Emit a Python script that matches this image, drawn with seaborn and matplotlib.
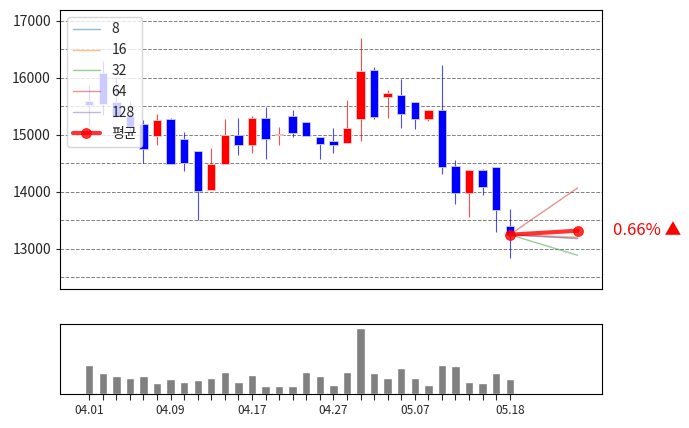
import matplotlib
matplotlib.use("Agg")
import matplotlib.pyplot as plt
import seaborn as sns
import numpy as np
import pandas as pd

sns.set_style("white")
plt.rcParams['font.family'] = ['Noto Sans CJK KR', 'DejaVu Sans']

opens  = [15600,16090,15580,15330,15190,14980,15280,14930,14720,14030,14490,15000,14820,15300,15000,15330,15230,14960,14900,14860,15280,16140,15670,15700,15580,15280,15440,14460,13980,14390,14440,13400]
closes = [15530,15545,15320,15140,14750,15260,14490,14510,14020,14490,15000,14820,15300,14930,15000,15040,14980,14840,14820,15120,16120,15320,15740,15370,15280,15440,14440,13980,14390,14090,13680,13250]
highs  = [15877,16300,16020,15600,15260,15370,15290,15050,14720,14770,15280,15300,15340,15490,15140,15430,15230,14960,15120,15610,16700,16190,15780,15990,15580,15440,16230,14560,14390,14400,14440,13700]
lows   = [15150,15350,15300,15050,14510,14820,14490,14370,13510,14030,14490,14650,14680,14580,14820,14960,14980,14570,14690,14860,14900,15280,15300,15120,15100,15250,14320,13790,13560,13950,13300,12840]
volume = [87,63,54,48,54,33,45,36,42,48,66,36,57,24,24,24,66,54,27,66,198,63,48,78,48,27,87,84,36,33,63,45]
tick_labels = {0: "04.01", 6: "04.09", 12: "04.17", 18: "04.27", 24: "05.07", 31: "05.18"}
forecast_names = ["8", "16", "32", "64", "128"]
forecast_end = [13190, 13210, 12890, 14070, 13180]
forecast_colors = ["#1f77b4", "#ff7f0e", "#2ca02c", "#d62728", "#9467bd"]
avg_end = 13320
start_val = 13250
horizon = 5
pct_text = "0.66% ▲"

fig = plt.figure(figsize=(6.89, 4.28), dpi=100)
ax = fig.add_axes([0.0871, 0.3248, 0.7866, 0.652])
axv = fig.add_axes([0.0871, 0.0794, 0.7866, 0.1636])

n = len(opens)
x = np.arange(n)
for i in range(n):
    up = closes[i] > opens[i] or (closes[i] == opens[i])
    c = "red" if up else "blue"
    ax.vlines(i, lows[i], highs[i], color=c, lw=0.8, alpha=0.7, zorder=2)
    lo, hi = min(opens[i], closes[i]), max(opens[i], closes[i])
    ax.bar(i, max(hi - lo, 20), bottom=lo, width=0.62, color=c, edgecolor="#ccccff" if not up else "#ffcccc", lw=0.6, zorder=3)

last = n - 1
for name, end, col in zip(forecast_names, forecast_end, forecast_colors):
    df = pd.DataFrame({"x": [last, last + horizon], "y": [start_val, end]})
    sns.lineplot(data=df, x="x", y="y", ax=ax, color=col, lw=1, alpha=0.5, label=name, zorder=4)
df = pd.DataFrame({"x": [last, last + horizon], "y": [start_val, avg_end]})
sns.lineplot(data=df, x="x", y="y", ax=ax, color="red", lw=3, alpha=0.8, marker="o", markersize=7,
             markeredgecolor="red", label="평균", zorder=5)

ax.set_xlim(-2.15, 37.8)
ax.set_ylim(12298, 17193)
ax.set_yticks([13000, 14000, 15000, 16000, 17000])
ax.set_yticks(np.arange(12500, 17001, 500), minor=True)
ax.yaxis.grid(True, which="both", ls="--", color="gray", lw=0.7)
ax.set_xticks([])
ax.set_xlabel(""); ax.set_ylabel("")
ax.tick_params(axis="y", labelsize=10, left=True, length=3)
for s in ax.spines.values():
    s.set_color("black"); s.set_linewidth(0.8)
leg = ax.legend(loc="upper left", fontsize=10, framealpha=0.8)
ax.text(1.02, (avg_end - 12298) / (17193 - 12298), pct_text, transform=ax.transAxes,
        color="red", fontsize=12, va="center", ha="left")

sns.barplot(x=x, y=volume, ax=axv, color="gray", width=0.62, native_scale=True, saturation=1)
axv.set_xlim(-2.15, 37.8)
axv.set_ylim(0, 210)
axv.set_yticks([])
axv.set_xticks(x)
axv.set_xticklabels([tick_labels.get(i, "") for i in x], fontsize=8.5)
axv.tick_params(axis="x", bottom=True, length=4)
for s in axv.spines.values():
    s.set_color("black"); s.set_linewidth(0.8)

fig.savefig("out.png", dpi=100)
